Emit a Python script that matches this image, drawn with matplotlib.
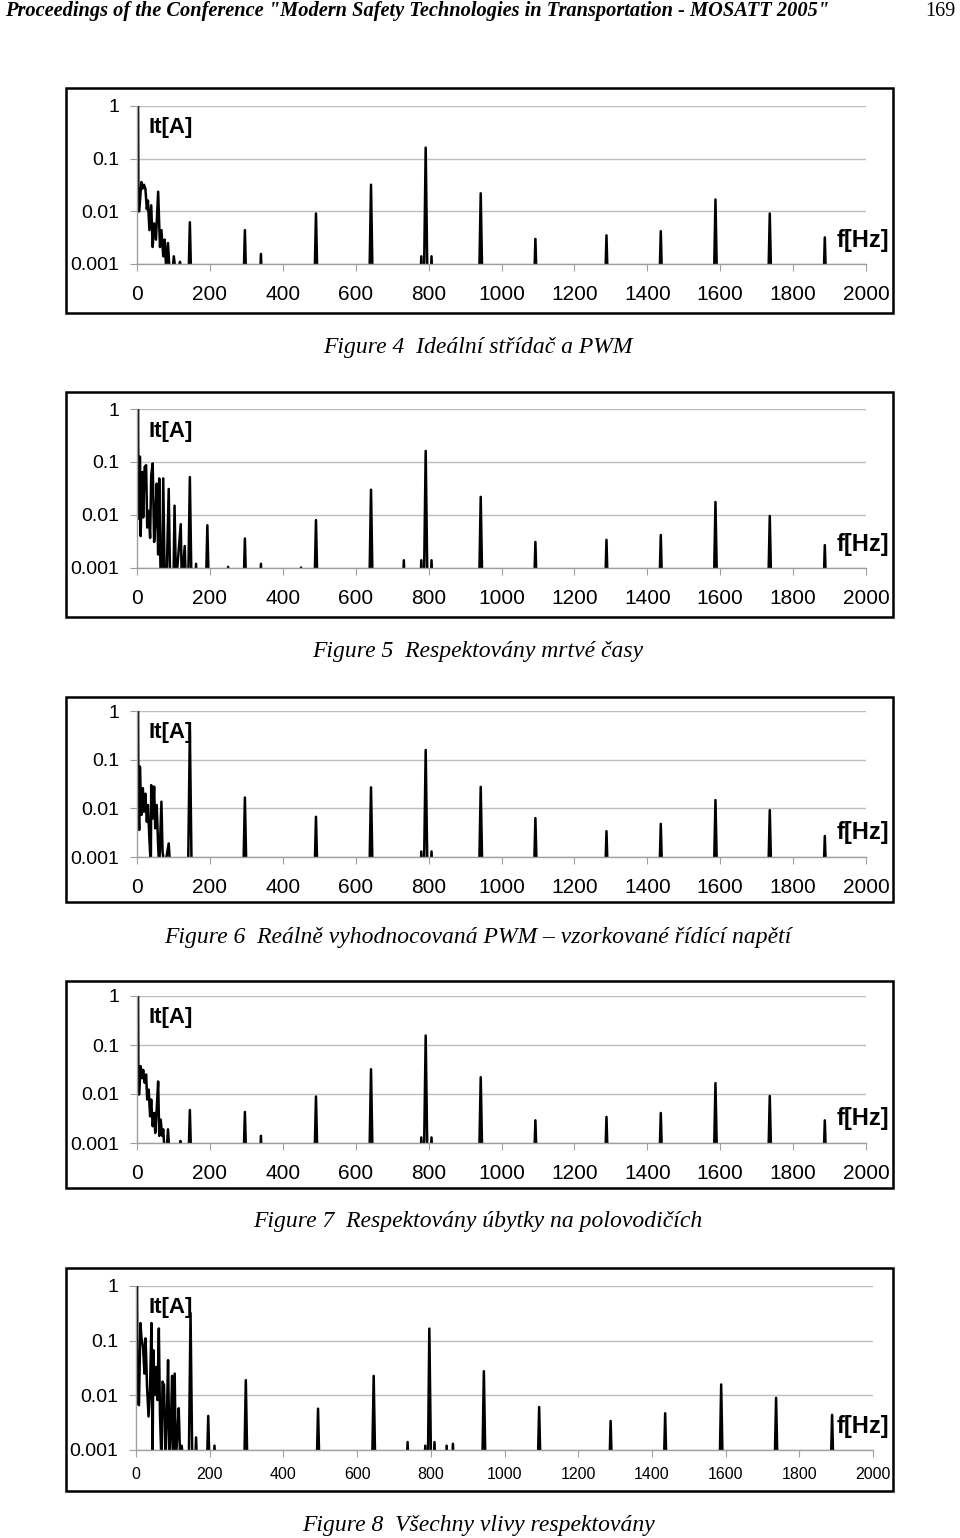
import numpy as np
import matplotlib.pyplot as plt

plt.rcParams['font.family'] = ['Liberation Sans', 'DejaVu Sans']

# ---- data read from the scanned page (f in Hz, It in A) ----
# Figure 4 - ideal inverter
f4_low = [3, 4, 6, 12, 15, 19, 23, 27, 30, 34, 39, 43, 47, 52, 58, 63, 67, 72, 76, 80, 85, 89, 98, 101, 105, 115, 118, 121]
a4_low = [1.0, 0.01, 0.01, 0.036, 0.027, 0.032, 0.027, 0.011, 0.016, 0.0044, 0.013, 0.0021, 0.0059, 0.0029, 0.0236,
          0.0021, 0.0044, 0.0014, 0.0029, 0.0008, 0.0025, 0.0008, 0.0008, 0.0014, 0.0008, 0.0008, 0.0011, 0.0006]
f4_spk = [145, 296, 340, 491, 642, 780, 792, 808, 943, 1093, 1288, 1437, 1587, 1736, 1887]
a4_spk = [0.0062, 0.0044, 0.00155, 0.0091, 0.032, 0.0014, 0.162, 0.0014, 0.022, 0.0030, 0.0035, 0.0042, 0.0168, 0.0091, 0.0032]

# Figure 5 - dead times
f5_low = [3, 4, 6, 8, 10, 14, 17, 21, 25, 28, 32, 36, 39, 43, 47, 50, 54, 58, 61, 65, 69, 72, 76, 81, 87, 91, 100, 103, 107, 120, 123, 131, 134]
a5_low = [1.0, 0.009, 0.0084, 0.126, 0.004, 0.065, 0.009, 0.081, 0.087, 0.0058, 0.012, 0.0037, 0.056, 0.094, 0.0031,
          0.0067, 0.039, 0.0018, 0.049, 0.0005, 0.0005, 0.049, 0.0005, 0.0005, 0.031, 0.0005, 0.0005, 0.015, 0.0005,
          0.0067, 0.0005, 0.0026, 0.0005]
f5_spk = [145, 162, 193, 250, 296, 340, 450, 491, 642, 732, 780, 792, 808, 943, 1093, 1288, 1437, 1587, 1736, 1887]
a5_spk = [0.052, 0.0012, 0.0064, 0.00105, 0.0036, 0.0012, 0.00102, 0.0080, 0.030, 0.0014, 0.0014, 0.162, 0.0014,
          0.022, 0.0031, 0.0034, 0.0042, 0.0176, 0.0096, 0.0027]

# Figure 6 - sampled PWM
f6_low = [3, 4, 6, 8, 12, 16, 19, 23, 27, 30, 34, 38, 39, 43, 47, 50, 54, 58, 61, 67, 70, 76, 87, 91]
a6_low = [1.0, 0.0117, 0.0036, 0.072, 0.0073, 0.026, 0.0085, 0.02, 0.0053, 0.0117, 0.0024, 0.0006, 0.030, 0.0062,
          0.028, 0.0039, 0.0117, 0.0017, 0.0006, 0.0137, 0.0013, 0.0006, 0.0019, 0.0006]
f6_spk = [145, 296, 491, 642, 780, 792, 808, 943, 1093, 1288, 1437, 1587, 1736, 1887]
a6_spk = [0.4, 0.0167, 0.0067, 0.027, 0.0013, 0.158, 0.0013, 0.0276, 0.0063, 0.0034, 0.0048, 0.0148, 0.0092, 0.0027]

# Figure 7 - semiconductor drops
f7_low = [3, 4, 6, 10, 14, 17, 21, 25, 28, 32, 36, 39, 43, 47, 50, 54, 58, 61, 65, 69, 72, 76, 81, 85, 89, 118, 119, 121]
a7_low = [1.0, 0.0098, 0.0098, 0.037, 0.021, 0.031, 0.017, 0.025, 0.0077, 0.0123, 0.0035, 0.0077, 0.0022, 0.0041,
          0.0016, 0.0048, 0.018, 0.0014, 0.003, 0.0014, 0.0019, 0.0006, 0.0006, 0.0019, 0.0006, 0.0006, 0.0011, 0.0006]
f7_spk = [145, 296, 340, 491, 642, 780, 792, 808, 943, 1093, 1288, 1437, 1587, 1736, 1887]
a7_spk = [0.0047, 0.0043, 0.0014, 0.0089, 0.032, 0.0013, 0.156, 0.0013, 0.022, 0.0029, 0.0034, 0.0041, 0.0167, 0.0091, 0.0029]

# Figure 8 - all effects
f8_low = [3, 4, 8, 12, 15, 19, 23, 26, 30, 34, 38, 42, 45, 47, 51, 54, 58, 62, 65, 69, 72, 76, 80, 84, 87, 91, 94,
          98, 101, 105, 108, 112, 116, 120, 124, 128]
a8_low = [1.0, 0.0077, 0.0066, 0.21, 0.11, 0.078, 0.025, 0.11, 0.0144, 0.0041, 0.0125, 0.21, 0.0006, 0.067, 0.0101,
          0.033, 0.0082, 0.167, 0.0047, 0.0006, 0.0178, 0.0154, 0.0006, 0.0047, 0.044, 0.0006, 0.002, 0.0227, 0.0006,
          0.025, 0.0006, 0.0019, 0.0058, 0.0006, 0.0012, 0.0006]
f8_spk = [148, 163, 196, 213, 298, 494, 645, 737, 785, 796, 810, 843, 860, 944, 1094, 1288, 1436, 1588, 1737, 1889]
a8_spk = [0.32, 0.0017, 0.0042, 0.0012, 0.019, 0.0057, 0.0227, 0.0014, 0.0012, 0.166, 0.0014, 0.0012, 0.0013,
          0.0276, 0.0061, 0.0034, 0.0047, 0.0158, 0.009, 0.0044]

captions = ['Figure 4  Ideální střídač a PWM',
            'Figure 5  Respektovány mrtvé časy',
            'Figure 6  Reálně vyhodnocovaná PWM – vzorkované řídící napětí',
            'Figure 7  Respektovány úbytky na polovodičích',
            'Figure 8  Všechny vlivy respektovány']

x_ticks = [0, 200, 400, 600, 800, 1000, 1200, 1400, 1600, 1800, 2000]
y_ticks = [0.001, 0.01, 0.1, 1]
y_labels = ['0.001', '0.01', '0.1', '1']

W, H = 960, 1538
fig = plt.figure(figsize=(W / 100, H / 100), dpi=100)


def fx(px):
    return px / W


def fy(py):
    return 1 - py / H


def trace(low_f, low_a, spk_f, spk_a, w=6, floor=1e-4):
    pts = list(zip(low_f, low_a))
    for f, a in zip(spk_f, spk_a):
        pts += [(f - w, floor), (f, a), (f + w, floor)]
    pts.sort(key=lambda p: p[0])
    return [p[0] for p in pts], [p[1] for p in pts]


# pixel layout: (box top, box bottom, axis top y, axis bottom y, axis left x, axis right x, caption y, tick size)
layout = [
    (88, 313, 106, 264, 137, 866, 347, 15),
    (392, 617, 409, 568, 137, 866, 651, 15),
    (697, 902, 711, 857, 137, 866, 937, 15),
    (981, 1188, 996, 1143, 137, 866, 1222, 15),
    (1268, 1491, 1286, 1450, 136, 873, 1526, 11.5),
]
series = [(f4_low, a4_low, f4_spk, a4_spk),
          (f5_low, a5_low, f5_spk, a5_spk),
          (f6_low, a6_low, f6_spk, a6_spk),
          (f7_low, a7_low, f7_spk, a7_spk),
          (f8_low, a8_low, f8_spk, a8_spk)]

for (btop, bbot, atop, abot, aleft, aright, capy, tsize), data, cap in zip(layout, series, captions):
    fig.patches.append(plt.Rectangle((fx(66), fy(bbot)), fx(893) - fx(66), fy(btop) - fy(bbot),
                                     transform=fig.transFigure, fill=False, lw=1.8, ec='black'))
    ax = fig.add_axes([fx(aleft), fy(abot), fx(aright) - fx(aleft), fy(atop) - fy(abot)])
    xs, ys = trace(*data)
    ax.plot(xs, ys, color='black', lw=1.8, solid_joinstyle='round')
    ax.set_yscale('log')
    ax.set_ylim(0.001, 1)
    ax.set_xlim(0, 2000)
    ax.set_yticks(y_ticks)
    ax.set_yticklabels(y_labels)
    ax.minorticks_off()
    ax.set_xticks(x_ticks)
    ax.set_xticklabels([str(t) for t in x_ticks])
    ax.grid(axis='y', color='#bdbdbd', lw=1)
    ax.set_axisbelow(True)
    for s in ['top', 'right']:
        ax.spines[s].set_visible(False)
    for s in ['left', 'bottom']:
        ax.spines[s].set_color('#a0a0a0')
        ax.spines[s].set_linewidth(1)
    ax.tick_params(axis='x', labelsize=tsize, length=5, color='#a0a0a0', pad=10 if tsize > 12 else 7)
    ax.tick_params(axis='y', labelsize=14, length=5, color='#a0a0a0', pad=8)
    ax.patch.set_alpha(0)
    fig.text(fx(149), fy(atop + 22), 'It[A]', fontsize=16, fontweight='bold', ha='left', va='center')
    fig.text(fx(889), fy(abot - 24), 'f[Hz]', fontsize=17, fontweight='bold', ha='right', va='center')
    fig.text(fx(478), fy(capy), cap, fontsize=17, style='italic', family='Liberation Serif',
             ha='center', va='center')

fig.text(fx(5), fy(11), 'Proceedings of the Conference "Modern Safety Technologies in Transportation - MOSATT 2005"',
         fontsize=14.7, fontweight='bold', style='italic', family='Liberation Serif', ha='left', va='center')
fig.text(fx(955), fy(11), '169', fontsize=14.5, family='Liberation Serif', ha='right', va='center')

fig.savefig('out.png', dpi=100)
